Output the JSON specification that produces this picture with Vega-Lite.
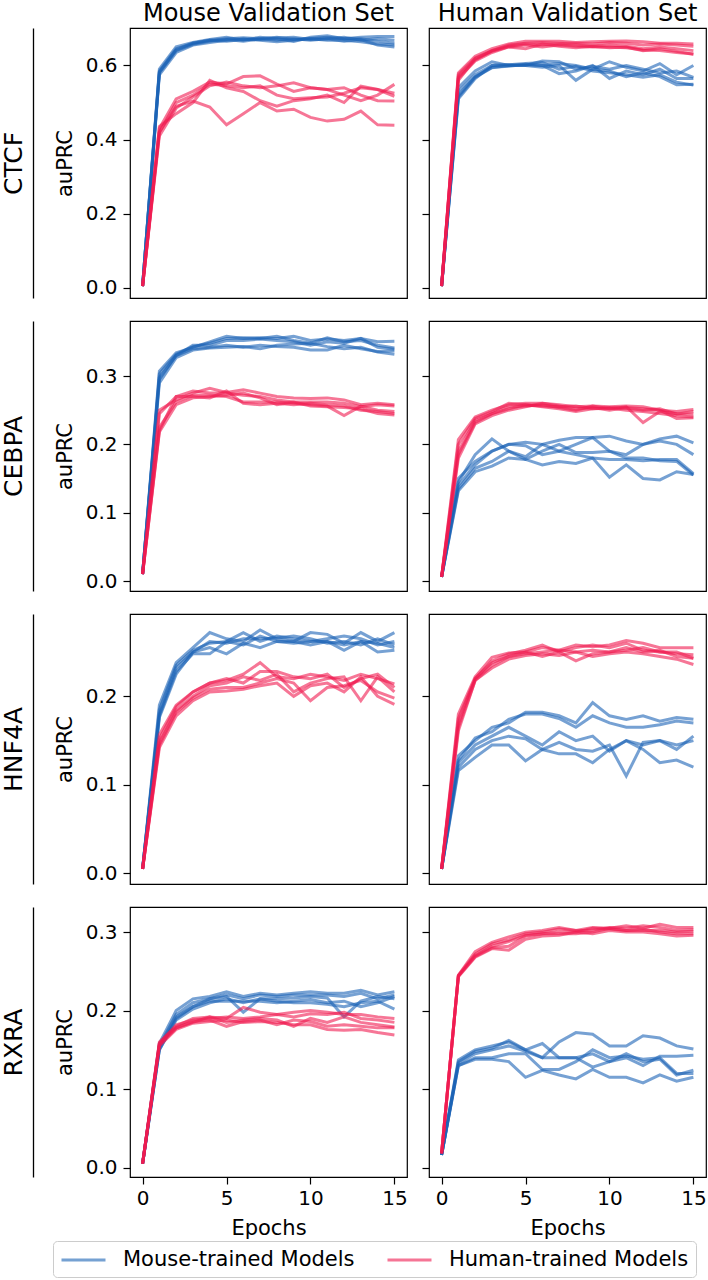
{
  "$schema": "https://vega.github.io/schema/vega-lite/v6.json",
  "padding": {"top": 1, "left": 0, "right": 0, "bottom": 0},
  "background": "white",
  "config": {
    "font": "DejaVu Sans",
    "view": {"stroke": "black", "strokeWidth": 1.2},
    "axis": {
      "grid": false, "domain": false, "tickColor": "black", "tickSize": 7, "tickWidth": 1.2,
      "labelFont": "DejaVu Sans", "labelFontSize": 20, "labelColor": "black", "labelPadding": 6, "labelFlush": false,
      "titleFont": "DejaVu Sans", "titleFontSize": 21, "titleFontWeight": "normal", "titleColor": "black"
    },
    "title": {"font": "DejaVu Sans", "fontSize": 24, "fontWeight": "normal", "color": "black", "offset": 2, "frame": "group", "anchor": "middle"},
    "legend": {
      "orient": "none", "legendX": -77, "legendY": 1213, "direction": "horizontal", "padding": 7,
      "strokeColor": "#cccccc", "fillColor": "white", "cornerRadius": 4,
      "labelFont": "DejaVu Sans", "labelFontSize": 21, "labelColor": "black", "labelOffset": 39, "labelLimit": 400,
      "symbolType": "M-1,0H3.19", "symbolSize": 441, "symbolStrokeWidth": 3, "symbolOpacity": 0.6, "columnPadding": 26
    }
  },
  "spacing": 21,
  "vconcat": [
    {
      "spacing": 12,
      "hconcat": [
        {
          "width": 277, "height": 270,
          "title": "Mouse Validation Set",
          "data": {"values": [
            {"m":"M","r":1,"x":0,"y":0.005},{"m":"M","r":1,"x":1,"y":0.585},{"m":"M","r":1,"x":2,"y":0.645},{"m":"M","r":1,"x":3,"y":0.66},{"m":"M","r":1,"x":4,"y":0.668},{"m":"M","r":1,"x":5,"y":0.672},{"m":"M","r":1,"x":6,"y":0.675},{"m":"M","r":1,"x":7,"y":0.672},{"m":"M","r":1,"x":8,"y":0.676},{"m":"M","r":1,"x":9,"y":0.67},{"m":"M","r":1,"x":10,"y":0.673},{"m":"M","r":1,"x":11,"y":0.676},{"m":"M","r":1,"x":12,"y":0.672},{"m":"M","r":1,"x":13,"y":0.676},{"m":"M","r":1,"x":14,"y":0.678},{"m":"M","r":1,"x":15,"y":0.678},
            {"m":"M","r":2,"x":0,"y":0.005},{"m":"M","r":2,"x":1,"y":0.58},{"m":"M","r":2,"x":2,"y":0.64},{"m":"M","r":2,"x":3,"y":0.657},{"m":"M","r":2,"x":4,"y":0.665},{"m":"M","r":2,"x":5,"y":0.67},{"m":"M","r":2,"x":6,"y":0.665},{"m":"M","r":2,"x":7,"y":0.672},{"m":"M","r":2,"x":8,"y":0.668},{"m":"M","r":2,"x":9,"y":0.672},{"m":"M","r":2,"x":10,"y":0.668},{"m":"M","r":2,"x":11,"y":0.672},{"m":"M","r":2,"x":12,"y":0.676},{"m":"M","r":2,"x":13,"y":0.668},{"m":"M","r":2,"x":14,"y":0.672},{"m":"M","r":2,"x":15,"y":0.668},
            {"m":"M","r":3,"x":0,"y":0.005},{"m":"M","r":3,"x":1,"y":0.59},{"m":"M","r":3,"x":2,"y":0.65},{"m":"M","r":3,"x":3,"y":0.662},{"m":"M","r":3,"x":4,"y":0.67},{"m":"M","r":3,"x":5,"y":0.676},{"m":"M","r":3,"x":6,"y":0.668},{"m":"M","r":3,"x":7,"y":0.676},{"m":"M","r":3,"x":8,"y":0.672},{"m":"M","r":3,"x":9,"y":0.665},{"m":"M","r":3,"x":10,"y":0.676},{"m":"M","r":3,"x":11,"y":0.68},{"m":"M","r":3,"x":12,"y":0.672},{"m":"M","r":3,"x":13,"y":0.672},{"m":"M","r":3,"x":14,"y":0.665},{"m":"M","r":3,"x":15,"y":0.66},
            {"m":"M","r":4,"x":0,"y":0.005},{"m":"M","r":4,"x":1,"y":0.575},{"m":"M","r":4,"x":2,"y":0.635},{"m":"M","r":4,"x":3,"y":0.655},{"m":"M","r":4,"x":4,"y":0.662},{"m":"M","r":4,"x":5,"y":0.668},{"m":"M","r":4,"x":6,"y":0.672},{"m":"M","r":4,"x":7,"y":0.668},{"m":"M","r":4,"x":8,"y":0.664},{"m":"M","r":4,"x":9,"y":0.668},{"m":"M","r":4,"x":10,"y":0.672},{"m":"M","r":4,"x":11,"y":0.668},{"m":"M","r":4,"x":12,"y":0.668},{"m":"M","r":4,"x":13,"y":0.664},{"m":"M","r":4,"x":14,"y":0.658},{"m":"M","r":4,"x":15,"y":0.655},
            {"m":"M","r":5,"x":0,"y":0.005},{"m":"M","r":5,"x":1,"y":0.582},{"m":"M","r":5,"x":2,"y":0.642},{"m":"M","r":5,"x":3,"y":0.66},{"m":"M","r":5,"x":4,"y":0.668},{"m":"M","r":5,"x":5,"y":0.665},{"m":"M","r":5,"x":6,"y":0.67},{"m":"M","r":5,"x":7,"y":0.67},{"m":"M","r":5,"x":8,"y":0.674},{"m":"M","r":5,"x":9,"y":0.676},{"m":"M","r":5,"x":10,"y":0.67},{"m":"M","r":5,"x":11,"y":0.672},{"m":"M","r":5,"x":12,"y":0.665},{"m":"M","r":5,"x":13,"y":0.67},{"m":"M","r":5,"x":14,"y":0.655},{"m":"M","r":5,"x":15,"y":0.65},
            {"m":"H","r":1,"x":0,"y":0.005},{"m":"H","r":1,"x":1,"y":0.43},{"m":"H","r":1,"x":2,"y":0.51},{"m":"H","r":1,"x":3,"y":0.53},{"m":"H","r":1,"x":4,"y":0.555},{"m":"H","r":1,"x":5,"y":0.55},{"m":"H","r":1,"x":6,"y":0.57},{"m":"H","r":1,"x":7,"y":0.572},{"m":"H","r":1,"x":8,"y":0.55},{"m":"H","r":1,"x":9,"y":0.53},{"m":"H","r":1,"x":10,"y":0.54},{"m":"H","r":1,"x":11,"y":0.535},{"m":"H","r":1,"x":12,"y":0.52},{"m":"H","r":1,"x":13,"y":0.505},{"m":"H","r":1,"x":14,"y":0.52},{"m":"H","r":1,"x":15,"y":0.549},
            {"m":"H","r":2,"x":0,"y":0.005},{"m":"H","r":2,"x":1,"y":0.42},{"m":"H","r":2,"x":2,"y":0.5},{"m":"H","r":2,"x":3,"y":0.52},{"m":"H","r":2,"x":4,"y":0.55},{"m":"H","r":2,"x":5,"y":0.545},{"m":"H","r":2,"x":6,"y":0.54},{"m":"H","r":2,"x":7,"y":0.545},{"m":"H","r":2,"x":8,"y":0.52},{"m":"H","r":2,"x":9,"y":0.51},{"m":"H","r":2,"x":10,"y":0.513},{"m":"H","r":2,"x":11,"y":0.515},{"m":"H","r":2,"x":12,"y":0.525},{"m":"H","r":2,"x":13,"y":0.54},{"m":"H","r":2,"x":14,"y":0.535},{"m":"H","r":2,"x":15,"y":0.525},
            {"m":"H","r":3,"x":0,"y":0.005},{"m":"H","r":3,"x":1,"y":0.41},{"m":"H","r":3,"x":2,"y":0.485},{"m":"H","r":3,"x":3,"y":0.515},{"m":"H","r":3,"x":4,"y":0.545},{"m":"H","r":3,"x":5,"y":0.555},{"m":"H","r":3,"x":6,"y":0.545},{"m":"H","r":3,"x":7,"y":0.54},{"m":"H","r":3,"x":8,"y":0.545},{"m":"H","r":3,"x":9,"y":0.553},{"m":"H","r":3,"x":10,"y":0.54},{"m":"H","r":3,"x":11,"y":0.535},{"m":"H","r":3,"x":12,"y":0.54},{"m":"H","r":3,"x":13,"y":0.52},{"m":"H","r":3,"x":14,"y":0.505},{"m":"H","r":3,"x":15,"y":0.504},
            {"m":"H","r":4,"x":0,"y":0.005},{"m":"H","r":4,"x":1,"y":0.435},{"m":"H","r":4,"x":2,"y":0.47},{"m":"H","r":4,"x":3,"y":0.5},{"m":"H","r":4,"x":4,"y":0.56},{"m":"H","r":4,"x":5,"y":0.54},{"m":"H","r":4,"x":6,"y":0.53},{"m":"H","r":4,"x":7,"y":0.505},{"m":"H","r":4,"x":8,"y":0.49},{"m":"H","r":4,"x":9,"y":0.505},{"m":"H","r":4,"x":10,"y":0.51},{"m":"H","r":4,"x":11,"y":0.52},{"m":"H","r":4,"x":12,"y":0.5},{"m":"H","r":4,"x":13,"y":0.544},{"m":"H","r":4,"x":14,"y":0.535},{"m":"H","r":4,"x":15,"y":0.517},
            {"m":"H","r":5,"x":0,"y":0.005},{"m":"H","r":5,"x":1,"y":0.42},{"m":"H","r":5,"x":2,"y":0.49},{"m":"H","r":5,"x":3,"y":0.504},{"m":"H","r":5,"x":4,"y":0.488},{"m":"H","r":5,"x":5,"y":0.44},{"m":"H","r":5,"x":6,"y":0.47},{"m":"H","r":5,"x":7,"y":0.5},{"m":"H","r":5,"x":8,"y":0.477},{"m":"H","r":5,"x":9,"y":0.482},{"m":"H","r":5,"x":10,"y":0.46},{"m":"H","r":5,"x":11,"y":0.45},{"m":"H","r":5,"x":12,"y":0.455},{"m":"H","r":5,"x":13,"y":0.477},{"m":"H","r":5,"x":14,"y":0.44},{"m":"H","r":5,"x":15,"y":0.439}
          ]},
          "layer": [
            {
              "mark": {"type": "line", "strokeWidth": 3, "opacity": 0.6},
              "encoding": {
                "x": {"field": "x", "type": "quantitative", "scale": {"domain": [-0.75, 15.75], "nice": false}, "axis": null},
                "y": {"field": "y", "type": "quantitative", "scale": {"domain": [-0.027, 0.701], "nice": false, "zero": false}, "axis": {"title": "auPRC", "values": [0, 0.2, 0.4, 0.6], "format": ".1f", "titlePadding": 10}},
                "color": {"field": "m", "type": "nominal", "scale": {"domain": ["M", "H"], "range": ["#1b63b5", "#f01a50"]}, "legend": {"title": null, "labelExpr": "datum.value == 'M' ? 'Mouse-trained Models' : 'Human-trained Models'"}},
                "detail": {"field": "r"}
              }
            },
            {
              "mark": {"type": "point", "opacity": 0},
              "encoding": {
                "y": {"field": "y", "type": "quantitative", "scale": {"domain": [-0.027, 0.701], "nice": false, "zero": false}, "axis": {"orient": "left", "offset": 97, "ticks": false, "labels": false, "domain": true, "domainColor": "black", "domainWidth": 1.3, "title": "CTCF", "titleFontSize": 25, "titlePadding": 7, "minExtent": 0}}
              }
            }
          ],
          "resolve": {"axis": {"y": "independent"}}
        },
        {
          "width": 277, "height": 270,
          "title": "Human Validation Set",
          "data": {"values": [
            {"m":"M","r":1,"x":0,"y":0.005},{"m":"M","r":1,"x":1,"y":0.54},{"m":"M","r":1,"x":2,"y":0.585},{"m":"M","r":1,"x":3,"y":0.61},{"m":"M","r":1,"x":4,"y":0.6},{"m":"M","r":1,"x":5,"y":0.602},{"m":"M","r":1,"x":6,"y":0.6},{"m":"M","r":1,"x":7,"y":0.605},{"m":"M","r":1,"x":8,"y":0.6},{"m":"M","r":1,"x":9,"y":0.59},{"m":"M","r":1,"x":10,"y":0.61},{"m":"M","r":1,"x":11,"y":0.595},{"m":"M","r":1,"x":12,"y":0.585},{"m":"M","r":1,"x":13,"y":0.605},{"m":"M","r":1,"x":14,"y":0.575},{"m":"M","r":1,"x":15,"y":0.6},
            {"m":"M","r":2,"x":0,"y":0.005},{"m":"M","r":2,"x":1,"y":0.53},{"m":"M","r":2,"x":2,"y":0.575},{"m":"M","r":2,"x":3,"y":0.6},{"m":"M","r":2,"x":4,"y":0.602},{"m":"M","r":2,"x":5,"y":0.6},{"m":"M","r":2,"x":6,"y":0.612},{"m":"M","r":2,"x":7,"y":0.61},{"m":"M","r":2,"x":8,"y":0.59},{"m":"M","r":2,"x":9,"y":0.598},{"m":"M","r":2,"x":10,"y":0.59},{"m":"M","r":2,"x":11,"y":0.6},{"m":"M","r":2,"x":12,"y":0.59},{"m":"M","r":2,"x":13,"y":0.58},{"m":"M","r":2,"x":14,"y":0.585},{"m":"M","r":2,"x":15,"y":0.568},
            {"m":"M","r":3,"x":0,"y":0.005},{"m":"M","r":3,"x":1,"y":0.52},{"m":"M","r":3,"x":2,"y":0.57},{"m":"M","r":3,"x":3,"y":0.595},{"m":"M","r":3,"x":4,"y":0.598},{"m":"M","r":3,"x":5,"y":0.603},{"m":"M","r":3,"x":6,"y":0.6},{"m":"M","r":3,"x":7,"y":0.578},{"m":"M","r":3,"x":8,"y":0.585},{"m":"M","r":3,"x":9,"y":0.6},{"m":"M","r":3,"x":10,"y":0.565},{"m":"M","r":3,"x":11,"y":0.585},{"m":"M","r":3,"x":12,"y":0.575},{"m":"M","r":3,"x":13,"y":0.59},{"m":"M","r":3,"x":14,"y":0.565},{"m":"M","r":3,"x":15,"y":0.565},
            {"m":"M","r":4,"x":0,"y":0.005},{"m":"M","r":4,"x":1,"y":0.515},{"m":"M","r":4,"x":2,"y":0.568},{"m":"M","r":4,"x":3,"y":0.594},{"m":"M","r":4,"x":4,"y":0.6},{"m":"M","r":4,"x":5,"y":0.6},{"m":"M","r":4,"x":6,"y":0.595},{"m":"M","r":4,"x":7,"y":0.6},{"m":"M","r":4,"x":8,"y":0.56},{"m":"M","r":4,"x":9,"y":0.59},{"m":"M","r":4,"x":10,"y":0.585},{"m":"M","r":4,"x":11,"y":0.57},{"m":"M","r":4,"x":12,"y":0.58},{"m":"M","r":4,"x":13,"y":0.57},{"m":"M","r":4,"x":14,"y":0.548},{"m":"M","r":4,"x":15,"y":0.549},
            {"m":"M","r":5,"x":0,"y":0.005},{"m":"M","r":5,"x":1,"y":0.51},{"m":"M","r":5,"x":2,"y":0.565},{"m":"M","r":5,"x":3,"y":0.6},{"m":"M","r":5,"x":4,"y":0.602},{"m":"M","r":5,"x":5,"y":0.605},{"m":"M","r":5,"x":6,"y":0.608},{"m":"M","r":5,"x":7,"y":0.59},{"m":"M","r":5,"x":8,"y":0.598},{"m":"M","r":5,"x":9,"y":0.585},{"m":"M","r":5,"x":10,"y":0.58},{"m":"M","r":5,"x":11,"y":0.575},{"m":"M","r":5,"x":12,"y":0.568},{"m":"M","r":5,"x":13,"y":0.575},{"m":"M","r":5,"x":14,"y":0.555},{"m":"M","r":5,"x":15,"y":0.547},
            {"m":"H","r":1,"x":0,"y":0.005},{"m":"H","r":1,"x":1,"y":0.58},{"m":"H","r":1,"x":2,"y":0.625},{"m":"H","r":1,"x":3,"y":0.645},{"m":"H","r":1,"x":4,"y":0.658},{"m":"H","r":1,"x":5,"y":0.665},{"m":"H","r":1,"x":6,"y":0.665},{"m":"H","r":1,"x":7,"y":0.665},{"m":"H","r":1,"x":8,"y":0.662},{"m":"H","r":1,"x":9,"y":0.664},{"m":"H","r":1,"x":10,"y":0.665},{"m":"H","r":1,"x":11,"y":0.666},{"m":"H","r":1,"x":12,"y":0.664},{"m":"H","r":1,"x":13,"y":0.66},{"m":"H","r":1,"x":14,"y":0.66},{"m":"H","r":1,"x":15,"y":0.658},
            {"m":"H","r":2,"x":0,"y":0.005},{"m":"H","r":2,"x":1,"y":0.575},{"m":"H","r":2,"x":2,"y":0.62},{"m":"H","r":2,"x":3,"y":0.64},{"m":"H","r":2,"x":4,"y":0.655},{"m":"H","r":2,"x":5,"y":0.66},{"m":"H","r":2,"x":6,"y":0.662},{"m":"H","r":2,"x":7,"y":0.66},{"m":"H","r":2,"x":8,"y":0.66},{"m":"H","r":2,"x":9,"y":0.658},{"m":"H","r":2,"x":10,"y":0.662},{"m":"H","r":2,"x":11,"y":0.66},{"m":"H","r":2,"x":12,"y":0.655},{"m":"H","r":2,"x":13,"y":0.658},{"m":"H","r":2,"x":14,"y":0.655},{"m":"H","r":2,"x":15,"y":0.652},
            {"m":"H","r":3,"x":0,"y":0.005},{"m":"H","r":3,"x":1,"y":0.57},{"m":"H","r":3,"x":2,"y":0.615},{"m":"H","r":3,"x":3,"y":0.64},{"m":"H","r":3,"x":4,"y":0.652},{"m":"H","r":3,"x":5,"y":0.658},{"m":"H","r":3,"x":6,"y":0.655},{"m":"H","r":3,"x":7,"y":0.658},{"m":"H","r":3,"x":8,"y":0.655},{"m":"H","r":3,"x":9,"y":0.652},{"m":"H","r":3,"x":10,"y":0.655},{"m":"H","r":3,"x":11,"y":0.652},{"m":"H","r":3,"x":12,"y":0.645},{"m":"H","r":3,"x":13,"y":0.65},{"m":"H","r":3,"x":14,"y":0.645},{"m":"H","r":3,"x":15,"y":0.64},
            {"m":"H","r":4,"x":0,"y":0.005},{"m":"H","r":4,"x":1,"y":0.565},{"m":"H","r":4,"x":2,"y":0.612},{"m":"H","r":4,"x":3,"y":0.635},{"m":"H","r":4,"x":4,"y":0.65},{"m":"H","r":4,"x":5,"y":0.655},{"m":"H","r":4,"x":6,"y":0.65},{"m":"H","r":4,"x":7,"y":0.655},{"m":"H","r":4,"x":8,"y":0.652},{"m":"H","r":4,"x":9,"y":0.65},{"m":"H","r":4,"x":10,"y":0.65},{"m":"H","r":4,"x":11,"y":0.648},{"m":"H","r":4,"x":12,"y":0.642},{"m":"H","r":4,"x":13,"y":0.64},{"m":"H","r":4,"x":14,"y":0.635},{"m":"H","r":4,"x":15,"y":0.631},
            {"m":"H","r":5,"x":0,"y":0.005},{"m":"H","r":5,"x":1,"y":0.56},{"m":"H","r":5,"x":2,"y":0.618},{"m":"H","r":5,"x":3,"y":0.638},{"m":"H","r":5,"x":4,"y":0.65},{"m":"H","r":5,"x":5,"y":0.645},{"m":"H","r":5,"x":6,"y":0.658},{"m":"H","r":5,"x":7,"y":0.652},{"m":"H","r":5,"x":8,"y":0.648},{"m":"H","r":5,"x":9,"y":0.652},{"m":"H","r":5,"x":10,"y":0.648},{"m":"H","r":5,"x":11,"y":0.65},{"m":"H","r":5,"x":12,"y":0.64},{"m":"H","r":5,"x":13,"y":0.645},{"m":"H","r":5,"x":14,"y":0.638},{"m":"H","r":5,"x":15,"y":0.63}
          ]},
          "mark": {"type": "line", "strokeWidth": 3, "opacity": 0.6},
          "encoding": {
            "x": {"field": "x", "type": "quantitative", "scale": {"domain": [-0.75, 15.75], "nice": false}, "axis": null},
            "y": {"field": "y", "type": "quantitative", "scale": {"domain": [-0.027, 0.701], "nice": false, "zero": false}, "axis": {"title": null, "labels": false, "values": [0, 0.2, 0.4, 0.6], "minExtent": 0}},
            "color": {"field": "m", "type": "nominal", "scale": {"domain": ["M", "H"], "range": ["#1b63b5", "#f01a50"]}, "legend": {"title": null, "labelExpr": "datum.value == 'M' ? 'Mouse-trained Models' : 'Human-trained Models'"}},
            "detail": {"field": "r"}
          }
        }
      ]
    },
    {
      "spacing": 12,
      "hconcat": [
        {
          "width": 277, "height": 270,
          "data": {"values": [
            {"m":"M","r":1,"x":0,"y":0.01},{"m":"M","r":1,"x":1,"y":0.307},{"m":"M","r":1,"x":2,"y":0.334},{"m":"M","r":1,"x":3,"y":0.342},{"m":"M","r":1,"x":4,"y":0.35},{"m":"M","r":1,"x":5,"y":0.358},{"m":"M","r":1,"x":6,"y":0.355},{"m":"M","r":1,"x":7,"y":0.356},{"m":"M","r":1,"x":8,"y":0.355},{"m":"M","r":1,"x":9,"y":0.358},{"m":"M","r":1,"x":10,"y":0.352},{"m":"M","r":1,"x":11,"y":0.354},{"m":"M","r":1,"x":12,"y":0.352},{"m":"M","r":1,"x":13,"y":0.355},{"m":"M","r":1,"x":14,"y":0.35},{"m":"M","r":1,"x":15,"y":0.351},
            {"m":"M","r":2,"x":0,"y":0.01},{"m":"M","r":2,"x":1,"y":0.303},{"m":"M","r":2,"x":2,"y":0.332},{"m":"M","r":2,"x":3,"y":0.343},{"m":"M","r":2,"x":4,"y":0.348},{"m":"M","r":2,"x":5,"y":0.355},{"m":"M","r":2,"x":6,"y":0.356},{"m":"M","r":2,"x":7,"y":0.355},{"m":"M","r":2,"x":8,"y":0.358},{"m":"M","r":2,"x":9,"y":0.352},{"m":"M","r":2,"x":10,"y":0.348},{"m":"M","r":2,"x":11,"y":0.356},{"m":"M","r":2,"x":12,"y":0.35},{"m":"M","r":2,"x":13,"y":0.352},{"m":"M","r":2,"x":14,"y":0.345},{"m":"M","r":2,"x":15,"y":0.341},
            {"m":"M","r":3,"x":0,"y":0.01},{"m":"M","r":3,"x":1,"y":0.298},{"m":"M","r":3,"x":2,"y":0.33},{"m":"M","r":3,"x":3,"y":0.345},{"m":"M","r":3,"x":4,"y":0.345},{"m":"M","r":3,"x":5,"y":0.352},{"m":"M","r":3,"x":6,"y":0.352},{"m":"M","r":3,"x":7,"y":0.354},{"m":"M","r":3,"x":8,"y":0.352},{"m":"M","r":3,"x":9,"y":0.35},{"m":"M","r":3,"x":10,"y":0.345},{"m":"M","r":3,"x":11,"y":0.35},{"m":"M","r":3,"x":12,"y":0.348},{"m":"M","r":3,"x":13,"y":0.355},{"m":"M","r":3,"x":14,"y":0.342},{"m":"M","r":3,"x":15,"y":0.339},
            {"m":"M","r":4,"x":0,"y":0.01},{"m":"M","r":4,"x":1,"y":0.295},{"m":"M","r":4,"x":2,"y":0.33},{"m":"M","r":4,"x":3,"y":0.34},{"m":"M","r":4,"x":4,"y":0.342},{"m":"M","r":4,"x":5,"y":0.345},{"m":"M","r":4,"x":6,"y":0.342},{"m":"M","r":4,"x":7,"y":0.345},{"m":"M","r":4,"x":8,"y":0.343},{"m":"M","r":4,"x":9,"y":0.342},{"m":"M","r":4,"x":10,"y":0.338},{"m":"M","r":4,"x":11,"y":0.338},{"m":"M","r":4,"x":12,"y":0.345},{"m":"M","r":4,"x":13,"y":0.34},{"m":"M","r":4,"x":14,"y":0.336},{"m":"M","r":4,"x":15,"y":0.337},
            {"m":"M","r":5,"x":0,"y":0.01},{"m":"M","r":5,"x":1,"y":0.29},{"m":"M","r":5,"x":2,"y":0.327},{"m":"M","r":5,"x":3,"y":0.338},{"m":"M","r":5,"x":4,"y":0.341},{"m":"M","r":5,"x":5,"y":0.342},{"m":"M","r":5,"x":6,"y":0.343},{"m":"M","r":5,"x":7,"y":0.34},{"m":"M","r":5,"x":8,"y":0.345},{"m":"M","r":5,"x":9,"y":0.347},{"m":"M","r":5,"x":10,"y":0.348},{"m":"M","r":5,"x":11,"y":0.343},{"m":"M","r":5,"x":12,"y":0.34},{"m":"M","r":5,"x":13,"y":0.342},{"m":"M","r":5,"x":14,"y":0.335},{"m":"M","r":5,"x":15,"y":0.332},
            {"m":"H","r":1,"x":0,"y":0.01},{"m":"H","r":1,"x":1,"y":0.25},{"m":"H","r":1,"x":2,"y":0.265},{"m":"H","r":1,"x":3,"y":0.275},{"m":"H","r":1,"x":4,"y":0.282},{"m":"H","r":1,"x":5,"y":0.276},{"m":"H","r":1,"x":6,"y":0.28},{"m":"H","r":1,"x":7,"y":0.275},{"m":"H","r":1,"x":8,"y":0.27},{"m":"H","r":1,"x":9,"y":0.268},{"m":"H","r":1,"x":10,"y":0.267},{"m":"H","r":1,"x":11,"y":0.268},{"m":"H","r":1,"x":12,"y":0.265},{"m":"H","r":1,"x":13,"y":0.258},{"m":"H","r":1,"x":14,"y":0.26},{"m":"H","r":1,"x":15,"y":0.258},
            {"m":"H","r":2,"x":0,"y":0.01},{"m":"H","r":2,"x":1,"y":0.245},{"m":"H","r":2,"x":2,"y":0.27},{"m":"H","r":2,"x":3,"y":0.278},{"m":"H","r":2,"x":4,"y":0.275},{"m":"H","r":2,"x":5,"y":0.275},{"m":"H","r":2,"x":6,"y":0.272},{"m":"H","r":2,"x":7,"y":0.27},{"m":"H","r":2,"x":8,"y":0.265},{"m":"H","r":2,"x":9,"y":0.262},{"m":"H","r":2,"x":10,"y":0.262},{"m":"H","r":2,"x":11,"y":0.262},{"m":"H","r":2,"x":12,"y":0.26},{"m":"H","r":2,"x":13,"y":0.255},{"m":"H","r":2,"x":14,"y":0.258},{"m":"H","r":2,"x":15,"y":0.256},
            {"m":"H","r":3,"x":0,"y":0.01},{"m":"H","r":3,"x":1,"y":0.225},{"m":"H","r":3,"x":2,"y":0.262},{"m":"H","r":3,"x":3,"y":0.272},{"m":"H","r":3,"x":4,"y":0.272},{"m":"H","r":3,"x":5,"y":0.27},{"m":"H","r":3,"x":6,"y":0.262},{"m":"H","r":3,"x":7,"y":0.262},{"m":"H","r":3,"x":8,"y":0.262},{"m":"H","r":3,"x":9,"y":0.26},{"m":"H","r":3,"x":10,"y":0.258},{"m":"H","r":3,"x":11,"y":0.256},{"m":"H","r":3,"x":12,"y":0.242},{"m":"H","r":3,"x":13,"y":0.256},{"m":"H","r":3,"x":14,"y":0.25},{"m":"H","r":3,"x":15,"y":0.248},
            {"m":"H","r":4,"x":0,"y":0.01},{"m":"H","r":4,"x":1,"y":0.22},{"m":"H","r":4,"x":2,"y":0.27},{"m":"H","r":4,"x":3,"y":0.27},{"m":"H","r":4,"x":4,"y":0.268},{"m":"H","r":4,"x":5,"y":0.278},{"m":"H","r":4,"x":6,"y":0.26},{"m":"H","r":4,"x":7,"y":0.258},{"m":"H","r":4,"x":8,"y":0.26},{"m":"H","r":4,"x":9,"y":0.258},{"m":"H","r":4,"x":10,"y":0.26},{"m":"H","r":4,"x":11,"y":0.258},{"m":"H","r":4,"x":12,"y":0.256},{"m":"H","r":4,"x":13,"y":0.25},{"m":"H","r":4,"x":14,"y":0.248},{"m":"H","r":4,"x":15,"y":0.245},
            {"m":"H","r":5,"x":0,"y":0.01},{"m":"H","r":5,"x":1,"y":0.218},{"m":"H","r":5,"x":2,"y":0.258},{"m":"H","r":5,"x":3,"y":0.268},{"m":"H","r":5,"x":4,"y":0.27},{"m":"H","r":5,"x":5,"y":0.272},{"m":"H","r":5,"x":6,"y":0.275},{"m":"H","r":5,"x":7,"y":0.268},{"m":"H","r":5,"x":8,"y":0.258},{"m":"H","r":5,"x":9,"y":0.262},{"m":"H","r":5,"x":10,"y":0.256},{"m":"H","r":5,"x":11,"y":0.255},{"m":"H","r":5,"x":12,"y":0.254},{"m":"H","r":5,"x":13,"y":0.252},{"m":"H","r":5,"x":14,"y":0.245},{"m":"H","r":5,"x":15,"y":0.243}
          ]},
          "layer": [
            {
              "mark": {"type": "line", "strokeWidth": 3, "opacity": 0.6},
              "encoding": {
                "x": {"field": "x", "type": "quantitative", "scale": {"domain": [-0.75, 15.75], "nice": false}, "axis": null},
                "y": {"field": "y", "type": "quantitative", "scale": {"domain": [-0.0146, 0.3805], "nice": false, "zero": false}, "axis": {"title": "auPRC", "values": [0, 0.1, 0.2, 0.3], "format": ".1f", "titlePadding": 10}},
                "color": {"field": "m", "type": "nominal", "scale": {"domain": ["M", "H"], "range": ["#1b63b5", "#f01a50"]}, "legend": {"title": null, "labelExpr": "datum.value == 'M' ? 'Mouse-trained Models' : 'Human-trained Models'"}},
                "detail": {"field": "r"}
              }
            },
            {
              "mark": {"type": "point", "opacity": 0},
              "encoding": {
                "y": {"field": "y", "type": "quantitative", "scale": {"domain": [-0.0146, 0.3805], "nice": false, "zero": false}, "axis": {"orient": "left", "offset": 97, "ticks": false, "labels": false, "domain": true, "domainColor": "black", "domainWidth": 1.3, "title": "CEBPA", "titleFontSize": 25, "titlePadding": 7, "minExtent": 0}}
              }
            }
          ],
          "resolve": {"axis": {"y": "independent"}}
        },
        {
          "width": 277, "height": 270,
          "data": {"values": [
            {"m":"M","r":1,"x":0,"y":0.006},{"m":"M","r":1,"x":1,"y":0.15},{"m":"M","r":1,"x":2,"y":0.175},{"m":"M","r":1,"x":3,"y":0.19},{"m":"M","r":1,"x":4,"y":0.2},{"m":"M","r":1,"x":5,"y":0.203},{"m":"M","r":1,"x":6,"y":0.2},{"m":"M","r":1,"x":7,"y":0.19},{"m":"M","r":1,"x":8,"y":0.2},{"m":"M","r":1,"x":9,"y":0.21},{"m":"M","r":1,"x":10,"y":0.212},{"m":"M","r":1,"x":11,"y":0.205},{"m":"M","r":1,"x":12,"y":0.2},{"m":"M","r":1,"x":13,"y":0.208},{"m":"M","r":1,"x":14,"y":0.212},{"m":"M","r":1,"x":15,"y":0.202},
            {"m":"M","r":2,"x":0,"y":0.006},{"m":"M","r":2,"x":1,"y":0.145},{"m":"M","r":2,"x":2,"y":0.185},{"m":"M","r":2,"x":3,"y":0.208},{"m":"M","r":2,"x":4,"y":0.19},{"m":"M","r":2,"x":5,"y":0.182},{"m":"M","r":2,"x":6,"y":0.2},{"m":"M","r":2,"x":7,"y":0.206},{"m":"M","r":2,"x":8,"y":0.21},{"m":"M","r":2,"x":9,"y":0.21},{"m":"M","r":2,"x":10,"y":0.19},{"m":"M","r":2,"x":11,"y":0.185},{"m":"M","r":2,"x":12,"y":0.2},{"m":"M","r":2,"x":13,"y":0.205},{"m":"M","r":2,"x":14,"y":0.2},{"m":"M","r":2,"x":15,"y":0.185},
            {"m":"M","r":3,"x":0,"y":0.006},{"m":"M","r":3,"x":1,"y":0.14},{"m":"M","r":3,"x":2,"y":0.17},{"m":"M","r":3,"x":3,"y":0.19},{"m":"M","r":3,"x":4,"y":0.2},{"m":"M","r":3,"x":5,"y":0.198},{"m":"M","r":3,"x":6,"y":0.185},{"m":"M","r":3,"x":7,"y":0.19},{"m":"M","r":3,"x":8,"y":0.185},{"m":"M","r":3,"x":9,"y":0.18},{"m":"M","r":3,"x":10,"y":0.152},{"m":"M","r":3,"x":11,"y":0.17},{"m":"M","r":3,"x":12,"y":0.15},{"m":"M","r":3,"x":13,"y":0.148},{"m":"M","r":3,"x":14,"y":0.16},{"m":"M","r":3,"x":15,"y":0.156},
            {"m":"M","r":4,"x":0,"y":0.006},{"m":"M","r":4,"x":1,"y":0.135},{"m":"M","r":4,"x":2,"y":0.165},{"m":"M","r":4,"x":3,"y":0.175},{"m":"M","r":4,"x":4,"y":0.19},{"m":"M","r":4,"x":5,"y":0.178},{"m":"M","r":4,"x":6,"y":0.19},{"m":"M","r":4,"x":7,"y":0.2},{"m":"M","r":4,"x":8,"y":0.188},{"m":"M","r":4,"x":9,"y":0.188},{"m":"M","r":4,"x":10,"y":0.19},{"m":"M","r":4,"x":11,"y":0.18},{"m":"M","r":4,"x":12,"y":0.18},{"m":"M","r":4,"x":13,"y":0.176},{"m":"M","r":4,"x":14,"y":0.175},{"m":"M","r":4,"x":15,"y":0.155},
            {"m":"M","r":5,"x":0,"y":0.006},{"m":"M","r":5,"x":1,"y":0.132},{"m":"M","r":5,"x":2,"y":0.16},{"m":"M","r":5,"x":3,"y":0.168},{"m":"M","r":5,"x":4,"y":0.18},{"m":"M","r":5,"x":5,"y":0.178},{"m":"M","r":5,"x":6,"y":0.17},{"m":"M","r":5,"x":7,"y":0.175},{"m":"M","r":5,"x":8,"y":0.172},{"m":"M","r":5,"x":9,"y":0.18},{"m":"M","r":5,"x":10,"y":0.178},{"m":"M","r":5,"x":11,"y":0.178},{"m":"M","r":5,"x":12,"y":0.176},{"m":"M","r":5,"x":13,"y":0.178},{"m":"M","r":5,"x":14,"y":0.178},{"m":"M","r":5,"x":15,"y":0.157},
            {"m":"H","r":1,"x":0,"y":0.006},{"m":"H","r":1,"x":1,"y":0.207},{"m":"H","r":1,"x":2,"y":0.24},{"m":"H","r":1,"x":3,"y":0.25},{"m":"H","r":1,"x":4,"y":0.258},{"m":"H","r":1,"x":5,"y":0.26},{"m":"H","r":1,"x":6,"y":0.26},{"m":"H","r":1,"x":7,"y":0.258},{"m":"H","r":1,"x":8,"y":0.255},{"m":"H","r":1,"x":9,"y":0.256},{"m":"H","r":1,"x":10,"y":0.255},{"m":"H","r":1,"x":11,"y":0.256},{"m":"H","r":1,"x":12,"y":0.255},{"m":"H","r":1,"x":13,"y":0.25},{"m":"H","r":1,"x":14,"y":0.248},{"m":"H","r":1,"x":15,"y":0.251},
            {"m":"H","r":2,"x":0,"y":0.006},{"m":"H","r":2,"x":1,"y":0.2},{"m":"H","r":2,"x":2,"y":0.238},{"m":"H","r":2,"x":3,"y":0.248},{"m":"H","r":2,"x":4,"y":0.26},{"m":"H","r":2,"x":5,"y":0.258},{"m":"H","r":2,"x":6,"y":0.256},{"m":"H","r":2,"x":7,"y":0.255},{"m":"H","r":2,"x":8,"y":0.256},{"m":"H","r":2,"x":9,"y":0.252},{"m":"H","r":2,"x":10,"y":0.254},{"m":"H","r":2,"x":11,"y":0.253},{"m":"H","r":2,"x":12,"y":0.25},{"m":"H","r":2,"x":13,"y":0.252},{"m":"H","r":2,"x":14,"y":0.244},{"m":"H","r":2,"x":15,"y":0.248},
            {"m":"H","r":3,"x":0,"y":0.006},{"m":"H","r":3,"x":1,"y":0.19},{"m":"H","r":3,"x":2,"y":0.235},{"m":"H","r":3,"x":3,"y":0.245},{"m":"H","r":3,"x":4,"y":0.255},{"m":"H","r":3,"x":5,"y":0.256},{"m":"H","r":3,"x":6,"y":0.258},{"m":"H","r":3,"x":7,"y":0.254},{"m":"H","r":3,"x":8,"y":0.25},{"m":"H","r":3,"x":9,"y":0.256},{"m":"H","r":3,"x":10,"y":0.252},{"m":"H","r":3,"x":11,"y":0.255},{"m":"H","r":3,"x":12,"y":0.232},{"m":"H","r":3,"x":13,"y":0.248},{"m":"H","r":3,"x":14,"y":0.245},{"m":"H","r":3,"x":15,"y":0.244},
            {"m":"H","r":4,"x":0,"y":0.006},{"m":"H","r":4,"x":1,"y":0.185},{"m":"H","r":4,"x":2,"y":0.232},{"m":"H","r":4,"x":3,"y":0.245},{"m":"H","r":4,"x":4,"y":0.252},{"m":"H","r":4,"x":5,"y":0.258},{"m":"H","r":4,"x":6,"y":0.255},{"m":"H","r":4,"x":7,"y":0.252},{"m":"H","r":4,"x":8,"y":0.248},{"m":"H","r":4,"x":9,"y":0.252},{"m":"H","r":4,"x":10,"y":0.253},{"m":"H","r":4,"x":11,"y":0.25},{"m":"H","r":4,"x":12,"y":0.248},{"m":"H","r":4,"x":13,"y":0.245},{"m":"H","r":4,"x":14,"y":0.242},{"m":"H","r":4,"x":15,"y":0.24},
            {"m":"H","r":5,"x":0,"y":0.006},{"m":"H","r":5,"x":1,"y":0.18},{"m":"H","r":5,"x":2,"y":0.23},{"m":"H","r":5,"x":3,"y":0.242},{"m":"H","r":5,"x":4,"y":0.25},{"m":"H","r":5,"x":5,"y":0.255},{"m":"H","r":5,"x":6,"y":0.26},{"m":"H","r":5,"x":7,"y":0.256},{"m":"H","r":5,"x":8,"y":0.252},{"m":"H","r":5,"x":9,"y":0.254},{"m":"H","r":5,"x":10,"y":0.25},{"m":"H","r":5,"x":11,"y":0.254},{"m":"H","r":5,"x":12,"y":0.252},{"m":"H","r":5,"x":13,"y":0.25},{"m":"H","r":5,"x":14,"y":0.238},{"m":"H","r":5,"x":15,"y":0.239}
          ]},
          "mark": {"type": "line", "strokeWidth": 3, "opacity": 0.6},
          "encoding": {
            "x": {"field": "x", "type": "quantitative", "scale": {"domain": [-0.75, 15.75], "nice": false}, "axis": null},
            "y": {"field": "y", "type": "quantitative", "scale": {"domain": [-0.0146, 0.3805], "nice": false, "zero": false}, "axis": {"title": null, "labels": false, "values": [0, 0.1, 0.2, 0.3], "minExtent": 0}},
            "color": {"field": "m", "type": "nominal", "scale": {"domain": ["M", "H"], "range": ["#1b63b5", "#f01a50"]}, "legend": {"title": null, "labelExpr": "datum.value == 'M' ? 'Mouse-trained Models' : 'Human-trained Models'"}},
            "detail": {"field": "r"}
          }
        }
      ]
    },
    {
      "spacing": 12,
      "hconcat": [
        {
          "width": 277, "height": 270,
          "data": {"values": [
            {"m":"M","r":1,"x":0,"y":0.005},{"m":"M","r":1,"x":1,"y":0.19},{"m":"M","r":1,"x":2,"y":0.238},{"m":"M","r":1,"x":3,"y":0.255},{"m":"M","r":1,"x":4,"y":0.272},{"m":"M","r":1,"x":5,"y":0.265},{"m":"M","r":1,"x":6,"y":0.262},{"m":"M","r":1,"x":7,"y":0.275},{"m":"M","r":1,"x":8,"y":0.265},{"m":"M","r":1,"x":9,"y":0.262},{"m":"M","r":1,"x":10,"y":0.272},{"m":"M","r":1,"x":11,"y":0.27},{"m":"M","r":1,"x":12,"y":0.26},{"m":"M","r":1,"x":13,"y":0.272},{"m":"M","r":1,"x":14,"y":0.262},{"m":"M","r":1,"x":15,"y":0.272},
            {"m":"M","r":2,"x":0,"y":0.005},{"m":"M","r":2,"x":1,"y":0.185},{"m":"M","r":2,"x":2,"y":0.235},{"m":"M","r":2,"x":3,"y":0.252},{"m":"M","r":2,"x":4,"y":0.26},{"m":"M","r":2,"x":5,"y":0.262},{"m":"M","r":2,"x":6,"y":0.272},{"m":"M","r":2,"x":7,"y":0.262},{"m":"M","r":2,"x":8,"y":0.268},{"m":"M","r":2,"x":9,"y":0.265},{"m":"M","r":2,"x":10,"y":0.262},{"m":"M","r":2,"x":11,"y":0.265},{"m":"M","r":2,"x":12,"y":0.268},{"m":"M","r":2,"x":13,"y":0.265},{"m":"M","r":2,"x":14,"y":0.258},{"m":"M","r":2,"x":15,"y":0.262},
            {"m":"M","r":3,"x":0,"y":0.005},{"m":"M","r":3,"x":1,"y":0.18},{"m":"M","r":3,"x":2,"y":0.232},{"m":"M","r":3,"x":3,"y":0.25},{"m":"M","r":3,"x":4,"y":0.262},{"m":"M","r":3,"x":5,"y":0.26},{"m":"M","r":3,"x":6,"y":0.265},{"m":"M","r":3,"x":7,"y":0.265},{"m":"M","r":3,"x":8,"y":0.266},{"m":"M","r":3,"x":9,"y":0.268},{"m":"M","r":3,"x":10,"y":0.265},{"m":"M","r":3,"x":11,"y":0.26},{"m":"M","r":3,"x":12,"y":0.262},{"m":"M","r":3,"x":13,"y":0.258},{"m":"M","r":3,"x":14,"y":0.265},{"m":"M","r":3,"x":15,"y":0.258},
            {"m":"M","r":4,"x":0,"y":0.005},{"m":"M","r":4,"x":1,"y":0.178},{"m":"M","r":4,"x":2,"y":0.228},{"m":"M","r":4,"x":3,"y":0.248},{"m":"M","r":4,"x":4,"y":0.248},{"m":"M","r":4,"x":5,"y":0.262},{"m":"M","r":4,"x":6,"y":0.258},{"m":"M","r":4,"x":7,"y":0.268},{"m":"M","r":4,"x":8,"y":0.262},{"m":"M","r":4,"x":9,"y":0.26},{"m":"M","r":4,"x":10,"y":0.262},{"m":"M","r":4,"x":11,"y":0.262},{"m":"M","r":4,"x":12,"y":0.258},{"m":"M","r":4,"x":13,"y":0.262},{"m":"M","r":4,"x":14,"y":0.26},{"m":"M","r":4,"x":15,"y":0.255},
            {"m":"M","r":5,"x":0,"y":0.005},{"m":"M","r":5,"x":1,"y":0.176},{"m":"M","r":5,"x":2,"y":0.225},{"m":"M","r":5,"x":3,"y":0.25},{"m":"M","r":5,"x":4,"y":0.255},{"m":"M","r":5,"x":5,"y":0.248},{"m":"M","r":5,"x":6,"y":0.26},{"m":"M","r":5,"x":7,"y":0.255},{"m":"M","r":5,"x":8,"y":0.262},{"m":"M","r":5,"x":9,"y":0.262},{"m":"M","r":5,"x":10,"y":0.258},{"m":"M","r":5,"x":11,"y":0.262},{"m":"M","r":5,"x":12,"y":0.252},{"m":"M","r":5,"x":13,"y":0.262},{"m":"M","r":5,"x":14,"y":0.25},{"m":"M","r":5,"x":15,"y":0.252},
            {"m":"H","r":1,"x":0,"y":0.005},{"m":"H","r":1,"x":1,"y":0.157},{"m":"H","r":1,"x":2,"y":0.19},{"m":"H","r":1,"x":3,"y":0.205},{"m":"H","r":1,"x":4,"y":0.215},{"m":"H","r":1,"x":5,"y":0.218},{"m":"H","r":1,"x":6,"y":0.225},{"m":"H","r":1,"x":7,"y":0.238},{"m":"H","r":1,"x":8,"y":0.222},{"m":"H","r":1,"x":9,"y":0.22},{"m":"H","r":1,"x":10,"y":0.225},{"m":"H","r":1,"x":11,"y":0.222},{"m":"H","r":1,"x":12,"y":0.218},{"m":"H","r":1,"x":13,"y":0.225},{"m":"H","r":1,"x":14,"y":0.22},{"m":"H","r":1,"x":15,"y":0.214},
            {"m":"H","r":2,"x":0,"y":0.005},{"m":"H","r":2,"x":1,"y":0.152},{"m":"H","r":2,"x":2,"y":0.188},{"m":"H","r":2,"x":3,"y":0.205},{"m":"H","r":2,"x":4,"y":0.215},{"m":"H","r":2,"x":5,"y":0.22},{"m":"H","r":2,"x":6,"y":0.215},{"m":"H","r":2,"x":7,"y":0.228},{"m":"H","r":2,"x":8,"y":0.228},{"m":"H","r":2,"x":9,"y":0.222},{"m":"H","r":2,"x":10,"y":0.22},{"m":"H","r":2,"x":11,"y":0.225},{"m":"H","r":2,"x":12,"y":0.21},{"m":"H","r":2,"x":13,"y":0.22},{"m":"H","r":2,"x":14,"y":0.225},{"m":"H","r":2,"x":15,"y":0.21},
            {"m":"H","r":3,"x":0,"y":0.005},{"m":"H","r":3,"x":1,"y":0.148},{"m":"H","r":3,"x":2,"y":0.184},{"m":"H","r":3,"x":3,"y":0.2},{"m":"H","r":3,"x":4,"y":0.212},{"m":"H","r":3,"x":5,"y":0.215},{"m":"H","r":3,"x":6,"y":0.222},{"m":"H","r":3,"x":7,"y":0.218},{"m":"H","r":3,"x":8,"y":0.225},{"m":"H","r":3,"x":9,"y":0.205},{"m":"H","r":3,"x":10,"y":0.215},{"m":"H","r":3,"x":11,"y":0.22},{"m":"H","r":3,"x":12,"y":0.222},{"m":"H","r":3,"x":13,"y":0.195},{"m":"H","r":3,"x":14,"y":0.222},{"m":"H","r":3,"x":15,"y":0.205},
            {"m":"H","r":4,"x":0,"y":0.005},{"m":"H","r":4,"x":1,"y":0.145},{"m":"H","r":4,"x":2,"y":0.182},{"m":"H","r":4,"x":3,"y":0.198},{"m":"H","r":4,"x":4,"y":0.208},{"m":"H","r":4,"x":5,"y":0.21},{"m":"H","r":4,"x":6,"y":0.21},{"m":"H","r":4,"x":7,"y":0.215},{"m":"H","r":4,"x":8,"y":0.22},{"m":"H","r":4,"x":9,"y":0.215},{"m":"H","r":4,"x":10,"y":0.195},{"m":"H","r":4,"x":11,"y":0.21},{"m":"H","r":4,"x":12,"y":0.212},{"m":"H","r":4,"x":13,"y":0.218},{"m":"H","r":4,"x":14,"y":0.205},{"m":"H","r":4,"x":15,"y":0.198},
            {"m":"H","r":5,"x":0,"y":0.005},{"m":"H","r":5,"x":1,"y":0.142},{"m":"H","r":5,"x":2,"y":0.178},{"m":"H","r":5,"x":3,"y":0.195},{"m":"H","r":5,"x":4,"y":0.205},{"m":"H","r":5,"x":5,"y":0.206},{"m":"H","r":5,"x":6,"y":0.208},{"m":"H","r":5,"x":7,"y":0.212},{"m":"H","r":5,"x":8,"y":0.215},{"m":"H","r":5,"x":9,"y":0.2},{"m":"H","r":5,"x":10,"y":0.212},{"m":"H","r":5,"x":11,"y":0.215},{"m":"H","r":5,"x":12,"y":0.205},{"m":"H","r":5,"x":13,"y":0.222},{"m":"H","r":5,"x":14,"y":0.2},{"m":"H","r":5,"x":15,"y":0.191}
          ]},
          "layer": [
            {
              "mark": {"type": "line", "strokeWidth": 3, "opacity": 0.6},
              "encoding": {
                "x": {"field": "x", "type": "quantitative", "scale": {"domain": [-0.75, 15.75], "nice": false}, "axis": null},
                "y": {"field": "y", "type": "quantitative", "scale": {"domain": [-0.012, 0.293], "nice": false, "zero": false}, "axis": {"title": "auPRC", "values": [0, 0.1, 0.2], "format": ".1f", "titlePadding": 10}},
                "color": {"field": "m", "type": "nominal", "scale": {"domain": ["M", "H"], "range": ["#1b63b5", "#f01a50"]}, "legend": {"title": null, "labelExpr": "datum.value == 'M' ? 'Mouse-trained Models' : 'Human-trained Models'"}},
                "detail": {"field": "r"}
              }
            },
            {
              "mark": {"type": "point", "opacity": 0},
              "encoding": {
                "y": {"field": "y", "type": "quantitative", "scale": {"domain": [-0.012, 0.293], "nice": false, "zero": false}, "axis": {"orient": "left", "offset": 97, "ticks": false, "labels": false, "domain": true, "domainColor": "black", "domainWidth": 1.3, "title": "HNF4A", "titleFontSize": 25, "titlePadding": 7, "minExtent": 0}}
              }
            }
          ],
          "resolve": {"axis": {"y": "independent"}}
        },
        {
          "width": 277, "height": 270,
          "data": {"values": [
            {"m":"M","r":1,"x":0,"y":0.005},{"m":"M","r":1,"x":1,"y":0.133},{"m":"M","r":1,"x":2,"y":0.15},{"m":"M","r":1,"x":3,"y":0.165},{"m":"M","r":1,"x":4,"y":0.17},{"m":"M","r":1,"x":5,"y":0.182},{"m":"M","r":1,"x":6,"y":0.182},{"m":"M","r":1,"x":7,"y":0.178},{"m":"M","r":1,"x":8,"y":0.17},{"m":"M","r":1,"x":9,"y":0.193},{"m":"M","r":1,"x":10,"y":0.178},{"m":"M","r":1,"x":11,"y":0.174},{"m":"M","r":1,"x":12,"y":0.178},{"m":"M","r":1,"x":13,"y":0.172},{"m":"M","r":1,"x":14,"y":0.176},{"m":"M","r":1,"x":15,"y":0.174},
            {"m":"M","r":2,"x":0,"y":0.005},{"m":"M","r":2,"x":1,"y":0.128},{"m":"M","r":2,"x":2,"y":0.153},{"m":"M","r":2,"x":3,"y":0.16},{"m":"M","r":2,"x":4,"y":0.174},{"m":"M","r":2,"x":5,"y":0.18},{"m":"M","r":2,"x":6,"y":0.18},{"m":"M","r":2,"x":7,"y":0.175},{"m":"M","r":2,"x":8,"y":0.165},{"m":"M","r":2,"x":9,"y":0.178},{"m":"M","r":2,"x":10,"y":0.17},{"m":"M","r":2,"x":11,"y":0.165},{"m":"M","r":2,"x":12,"y":0.165},{"m":"M","r":2,"x":13,"y":0.168},{"m":"M","r":2,"x":14,"y":0.172},{"m":"M","r":2,"x":15,"y":0.17},
            {"m":"M","r":3,"x":0,"y":0.005},{"m":"M","r":3,"x":1,"y":0.125},{"m":"M","r":3,"x":2,"y":0.145},{"m":"M","r":3,"x":3,"y":0.155},{"m":"M","r":3,"x":4,"y":0.165},{"m":"M","r":3,"x":5,"y":0.155},{"m":"M","r":3,"x":6,"y":0.145},{"m":"M","r":3,"x":7,"y":0.16},{"m":"M","r":3,"x":8,"y":0.15},{"m":"M","r":3,"x":9,"y":0.155},{"m":"M","r":3,"x":10,"y":0.138},{"m":"M","r":3,"x":11,"y":0.15},{"m":"M","r":3,"x":12,"y":0.145},{"m":"M","r":3,"x":13,"y":0.15},{"m":"M","r":3,"x":14,"y":0.14},{"m":"M","r":3,"x":15,"y":0.155},
            {"m":"M","r":4,"x":0,"y":0.005},{"m":"M","r":4,"x":1,"y":0.12},{"m":"M","r":4,"x":2,"y":0.14},{"m":"M","r":4,"x":3,"y":0.15},{"m":"M","r":4,"x":4,"y":0.155},{"m":"M","r":4,"x":5,"y":0.152},{"m":"M","r":4,"x":6,"y":0.14},{"m":"M","r":4,"x":7,"y":0.148},{"m":"M","r":4,"x":8,"y":0.14},{"m":"M","r":4,"x":9,"y":0.138},{"m":"M","r":4,"x":10,"y":0.145},{"m":"M","r":4,"x":11,"y":0.11},{"m":"M","r":4,"x":12,"y":0.148},{"m":"M","r":4,"x":13,"y":0.15},{"m":"M","r":4,"x":14,"y":0.145},{"m":"M","r":4,"x":15,"y":0.15},
            {"m":"M","r":5,"x":0,"y":0.005},{"m":"M","r":5,"x":1,"y":0.116},{"m":"M","r":5,"x":2,"y":0.131},{"m":"M","r":5,"x":3,"y":0.145},{"m":"M","r":5,"x":4,"y":0.145},{"m":"M","r":5,"x":5,"y":0.127},{"m":"M","r":5,"x":6,"y":0.14},{"m":"M","r":5,"x":7,"y":0.135},{"m":"M","r":5,"x":8,"y":0.135},{"m":"M","r":5,"x":9,"y":0.125},{"m":"M","r":5,"x":10,"y":0.14},{"m":"M","r":5,"x":11,"y":0.15},{"m":"M","r":5,"x":12,"y":0.14},{"m":"M","r":5,"x":13,"y":0.125},{"m":"M","r":5,"x":14,"y":0.128},{"m":"M","r":5,"x":15,"y":0.12},
            {"m":"H","r":1,"x":0,"y":0.005},{"m":"H","r":1,"x":1,"y":0.18},{"m":"H","r":1,"x":2,"y":0.222},{"m":"H","r":1,"x":3,"y":0.244},{"m":"H","r":1,"x":4,"y":0.249},{"m":"H","r":1,"x":5,"y":0.25},{"m":"H","r":1,"x":6,"y":0.255},{"m":"H","r":1,"x":7,"y":0.252},{"m":"H","r":1,"x":8,"y":0.258},{"m":"H","r":1,"x":9,"y":0.256},{"m":"H","r":1,"x":10,"y":0.258},{"m":"H","r":1,"x":11,"y":0.263},{"m":"H","r":1,"x":12,"y":0.26},{"m":"H","r":1,"x":13,"y":0.255},{"m":"H","r":1,"x":14,"y":0.255},{"m":"H","r":1,"x":15,"y":0.255},
            {"m":"H","r":2,"x":0,"y":0.005},{"m":"H","r":2,"x":1,"y":0.175},{"m":"H","r":2,"x":2,"y":0.22},{"m":"H","r":2,"x":3,"y":0.24},{"m":"H","r":2,"x":4,"y":0.248},{"m":"H","r":2,"x":5,"y":0.252},{"m":"H","r":2,"x":6,"y":0.258},{"m":"H","r":2,"x":7,"y":0.25},{"m":"H","r":2,"x":8,"y":0.255},{"m":"H","r":2,"x":9,"y":0.258},{"m":"H","r":2,"x":10,"y":0.255},{"m":"H","r":2,"x":11,"y":0.26},{"m":"H","r":2,"x":12,"y":0.252},{"m":"H","r":2,"x":13,"y":0.25},{"m":"H","r":2,"x":14,"y":0.248},{"m":"H","r":2,"x":15,"y":0.247},
            {"m":"H","r":3,"x":0,"y":0.005},{"m":"H","r":3,"x":1,"y":0.17},{"m":"H","r":3,"x":2,"y":0.22},{"m":"H","r":3,"x":3,"y":0.238},{"m":"H","r":3,"x":4,"y":0.245},{"m":"H","r":3,"x":5,"y":0.248},{"m":"H","r":3,"x":6,"y":0.25},{"m":"H","r":3,"x":7,"y":0.252},{"m":"H","r":3,"x":8,"y":0.25},{"m":"H","r":3,"x":9,"y":0.252},{"m":"H","r":3,"x":10,"y":0.25},{"m":"H","r":3,"x":11,"y":0.252},{"m":"H","r":3,"x":12,"y":0.255},{"m":"H","r":3,"x":13,"y":0.25},{"m":"H","r":3,"x":14,"y":0.25},{"m":"H","r":3,"x":15,"y":0.243},
            {"m":"H","r":4,"x":0,"y":0.005},{"m":"H","r":4,"x":1,"y":0.165},{"m":"H","r":4,"x":2,"y":0.218},{"m":"H","r":4,"x":3,"y":0.235},{"m":"H","r":4,"x":4,"y":0.245},{"m":"H","r":4,"x":5,"y":0.25},{"m":"H","r":4,"x":6,"y":0.245},{"m":"H","r":4,"x":7,"y":0.25},{"m":"H","r":4,"x":8,"y":0.24},{"m":"H","r":4,"x":9,"y":0.248},{"m":"H","r":4,"x":10,"y":0.25},{"m":"H","r":4,"x":11,"y":0.255},{"m":"H","r":4,"x":12,"y":0.25},{"m":"H","r":4,"x":13,"y":0.252},{"m":"H","r":4,"x":14,"y":0.245},{"m":"H","r":4,"x":15,"y":0.243},
            {"m":"H","r":5,"x":0,"y":0.005},{"m":"H","r":5,"x":1,"y":0.161},{"m":"H","r":5,"x":2,"y":0.218},{"m":"H","r":5,"x":3,"y":0.232},{"m":"H","r":5,"x":4,"y":0.242},{"m":"H","r":5,"x":5,"y":0.246},{"m":"H","r":5,"x":6,"y":0.248},{"m":"H","r":5,"x":7,"y":0.246},{"m":"H","r":5,"x":8,"y":0.25},{"m":"H","r":5,"x":9,"y":0.245},{"m":"H","r":5,"x":10,"y":0.248},{"m":"H","r":5,"x":11,"y":0.25},{"m":"H","r":5,"x":12,"y":0.248},{"m":"H","r":5,"x":13,"y":0.245},{"m":"H","r":5,"x":14,"y":0.242},{"m":"H","r":5,"x":15,"y":0.236}
          ]},
          "mark": {"type": "line", "strokeWidth": 3, "opacity": 0.6},
          "encoding": {
            "x": {"field": "x", "type": "quantitative", "scale": {"domain": [-0.75, 15.75], "nice": false}, "axis": null},
            "y": {"field": "y", "type": "quantitative", "scale": {"domain": [-0.012, 0.293], "nice": false, "zero": false}, "axis": {"title": null, "labels": false, "values": [0, 0.1, 0.2], "minExtent": 0}},
            "color": {"field": "m", "type": "nominal", "scale": {"domain": ["M", "H"], "range": ["#1b63b5", "#f01a50"]}, "legend": {"title": null, "labelExpr": "datum.value == 'M' ? 'Mouse-trained Models' : 'Human-trained Models'"}},
            "detail": {"field": "r"}
          }
        }
      ]
    },
    {
      "spacing": 12,
      "hconcat": [
        {
          "width": 277, "height": 270,
          "data": {"values": [
            {"m":"M","r":1,"x":0,"y":0.005},{"m":"M","r":1,"x":1,"y":0.158},{"m":"M","r":1,"x":2,"y":0.2},{"m":"M","r":1,"x":3,"y":0.215},{"m":"M","r":1,"x":4,"y":0.218},{"m":"M","r":1,"x":5,"y":0.224},{"m":"M","r":1,"x":6,"y":0.218},{"m":"M","r":1,"x":7,"y":0.222},{"m":"M","r":1,"x":8,"y":0.22},{"m":"M","r":1,"x":9,"y":0.222},{"m":"M","r":1,"x":10,"y":0.224},{"m":"M","r":1,"x":11,"y":0.222},{"m":"M","r":1,"x":12,"y":0.222},{"m":"M","r":1,"x":13,"y":0.226},{"m":"M","r":1,"x":14,"y":0.22},{"m":"M","r":1,"x":15,"y":0.224},
            {"m":"M","r":2,"x":0,"y":0.005},{"m":"M","r":2,"x":1,"y":0.155},{"m":"M","r":2,"x":2,"y":0.195},{"m":"M","r":2,"x":3,"y":0.21},{"m":"M","r":2,"x":4,"y":0.215},{"m":"M","r":2,"x":5,"y":0.22},{"m":"M","r":2,"x":6,"y":0.215},{"m":"M","r":2,"x":7,"y":0.22},{"m":"M","r":2,"x":8,"y":0.218},{"m":"M","r":2,"x":9,"y":0.22},{"m":"M","r":2,"x":10,"y":0.22},{"m":"M","r":2,"x":11,"y":0.22},{"m":"M","r":2,"x":12,"y":0.218},{"m":"M","r":2,"x":13,"y":0.222},{"m":"M","r":2,"x":14,"y":0.215},{"m":"M","r":2,"x":15,"y":0.22},
            {"m":"M","r":3,"x":0,"y":0.005},{"m":"M","r":3,"x":1,"y":0.152},{"m":"M","r":3,"x":2,"y":0.192},{"m":"M","r":3,"x":3,"y":0.205},{"m":"M","r":3,"x":4,"y":0.215},{"m":"M","r":3,"x":5,"y":0.218},{"m":"M","r":3,"x":6,"y":0.198},{"m":"M","r":3,"x":7,"y":0.215},{"m":"M","r":3,"x":8,"y":0.215},{"m":"M","r":3,"x":9,"y":0.216},{"m":"M","r":3,"x":10,"y":0.218},{"m":"M","r":3,"x":11,"y":0.216},{"m":"M","r":3,"x":12,"y":0.192},{"m":"M","r":3,"x":13,"y":0.212},{"m":"M","r":3,"x":14,"y":0.218},{"m":"M","r":3,"x":15,"y":0.215},
            {"m":"M","r":4,"x":0,"y":0.005},{"m":"M","r":4,"x":1,"y":0.15},{"m":"M","r":4,"x":2,"y":0.19},{"m":"M","r":4,"x":3,"y":0.205},{"m":"M","r":4,"x":4,"y":0.212},{"m":"M","r":4,"x":5,"y":0.212},{"m":"M","r":4,"x":6,"y":0.212},{"m":"M","r":4,"x":7,"y":0.212},{"m":"M","r":4,"x":8,"y":0.21},{"m":"M","r":4,"x":9,"y":0.212},{"m":"M","r":4,"x":10,"y":0.214},{"m":"M","r":4,"x":11,"y":0.21},{"m":"M","r":4,"x":12,"y":0.212},{"m":"M","r":4,"x":13,"y":0.205},{"m":"M","r":4,"x":14,"y":0.21},{"m":"M","r":4,"x":15,"y":0.218},
            {"m":"M","r":5,"x":0,"y":0.005},{"m":"M","r":5,"x":1,"y":0.15},{"m":"M","r":5,"x":2,"y":0.188},{"m":"M","r":5,"x":3,"y":0.202},{"m":"M","r":5,"x":4,"y":0.21},{"m":"M","r":5,"x":5,"y":0.215},{"m":"M","r":5,"x":6,"y":0.21},{"m":"M","r":5,"x":7,"y":0.215},{"m":"M","r":5,"x":8,"y":0.212},{"m":"M","r":5,"x":9,"y":0.21},{"m":"M","r":5,"x":10,"y":0.21},{"m":"M","r":5,"x":11,"y":0.208},{"m":"M","r":5,"x":12,"y":0.205},{"m":"M","r":5,"x":13,"y":0.21},{"m":"M","r":5,"x":14,"y":0.212},{"m":"M","r":5,"x":15,"y":0.202},
            {"m":"H","r":1,"x":0,"y":0.005},{"m":"H","r":1,"x":1,"y":0.16},{"m":"H","r":1,"x":2,"y":0.18},{"m":"H","r":1,"x":3,"y":0.19},{"m":"H","r":1,"x":4,"y":0.192},{"m":"H","r":1,"x":5,"y":0.19},{"m":"H","r":1,"x":6,"y":0.204},{"m":"H","r":1,"x":7,"y":0.198},{"m":"H","r":1,"x":8,"y":0.195},{"m":"H","r":1,"x":9,"y":0.198},{"m":"H","r":1,"x":10,"y":0.2},{"m":"H","r":1,"x":11,"y":0.198},{"m":"H","r":1,"x":12,"y":0.195},{"m":"H","r":1,"x":13,"y":0.195},{"m":"H","r":1,"x":14,"y":0.192},{"m":"H","r":1,"x":15,"y":0.19},
            {"m":"H","r":2,"x":0,"y":0.005},{"m":"H","r":2,"x":1,"y":0.158},{"m":"H","r":2,"x":2,"y":0.182},{"m":"H","r":2,"x":3,"y":0.188},{"m":"H","r":2,"x":4,"y":0.19},{"m":"H","r":2,"x":5,"y":0.192},{"m":"H","r":2,"x":6,"y":0.19},{"m":"H","r":2,"x":7,"y":0.192},{"m":"H","r":2,"x":8,"y":0.195},{"m":"H","r":2,"x":9,"y":0.192},{"m":"H","r":2,"x":10,"y":0.196},{"m":"H","r":2,"x":11,"y":0.195},{"m":"H","r":2,"x":12,"y":0.198},{"m":"H","r":2,"x":13,"y":0.19},{"m":"H","r":2,"x":14,"y":0.188},{"m":"H","r":2,"x":15,"y":0.185},
            {"m":"H","r":3,"x":0,"y":0.005},{"m":"H","r":3,"x":1,"y":0.158},{"m":"H","r":3,"x":2,"y":0.178},{"m":"H","r":3,"x":3,"y":0.185},{"m":"H","r":3,"x":4,"y":0.192},{"m":"H","r":3,"x":5,"y":0.185},{"m":"H","r":3,"x":6,"y":0.188},{"m":"H","r":3,"x":7,"y":0.19},{"m":"H","r":3,"x":8,"y":0.188},{"m":"H","r":3,"x":9,"y":0.18},{"m":"H","r":3,"x":10,"y":0.19},{"m":"H","r":3,"x":11,"y":0.185},{"m":"H","r":3,"x":12,"y":0.192},{"m":"H","r":3,"x":13,"y":0.185},{"m":"H","r":3,"x":14,"y":0.182},{"m":"H","r":3,"x":15,"y":0.179},
            {"m":"H","r":4,"x":0,"y":0.005},{"m":"H","r":4,"x":1,"y":0.156},{"m":"H","r":4,"x":2,"y":0.178},{"m":"H","r":4,"x":3,"y":0.186},{"m":"H","r":4,"x":4,"y":0.188},{"m":"H","r":4,"x":5,"y":0.18},{"m":"H","r":4,"x":6,"y":0.186},{"m":"H","r":4,"x":7,"y":0.188},{"m":"H","r":4,"x":8,"y":0.182},{"m":"H","r":4,"x":9,"y":0.188},{"m":"H","r":4,"x":10,"y":0.186},{"m":"H","r":4,"x":11,"y":0.18},{"m":"H","r":4,"x":12,"y":0.182},{"m":"H","r":4,"x":13,"y":0.18},{"m":"H","r":4,"x":14,"y":0.178},{"m":"H","r":4,"x":15,"y":0.178},
            {"m":"H","r":5,"x":0,"y":0.005},{"m":"H","r":5,"x":1,"y":0.155},{"m":"H","r":5,"x":2,"y":0.176},{"m":"H","r":5,"x":3,"y":0.184},{"m":"H","r":5,"x":4,"y":0.186},{"m":"H","r":5,"x":5,"y":0.188},{"m":"H","r":5,"x":6,"y":0.185},{"m":"H","r":5,"x":7,"y":0.186},{"m":"H","r":5,"x":8,"y":0.185},{"m":"H","r":5,"x":9,"y":0.182},{"m":"H","r":5,"x":10,"y":0.182},{"m":"H","r":5,"x":11,"y":0.176},{"m":"H","r":5,"x":12,"y":0.175},{"m":"H","r":5,"x":13,"y":0.176},{"m":"H","r":5,"x":14,"y":0.172},{"m":"H","r":5,"x":15,"y":0.169}
          ]},
          "layer": [
            {
              "mark": {"type": "line", "strokeWidth": 3, "opacity": 0.6},
              "encoding": {
                "x": {"field": "x", "type": "quantitative", "scale": {"domain": [-0.75, 15.75], "nice": false}, "axis": {"title": "Epochs", "values": [0, 5, 10, 15], "labelPadding": 4, "titlePadding": 9}},
                "y": {"field": "y", "type": "quantitative", "scale": {"domain": [-0.012, 0.332], "nice": false, "zero": false}, "axis": {"title": "auPRC", "values": [0, 0.1, 0.2, 0.3], "format": ".1f", "titlePadding": 10}},
                "color": {"field": "m", "type": "nominal", "scale": {"domain": ["M", "H"], "range": ["#1b63b5", "#f01a50"]}, "legend": {"title": null, "labelExpr": "datum.value == 'M' ? 'Mouse-trained Models' : 'Human-trained Models'"}},
                "detail": {"field": "r"}
              }
            },
            {
              "mark": {"type": "point", "opacity": 0},
              "encoding": {
                "y": {"field": "y", "type": "quantitative", "scale": {"domain": [-0.012, 0.332], "nice": false, "zero": false}, "axis": {"orient": "left", "offset": 97, "ticks": false, "labels": false, "domain": true, "domainColor": "black", "domainWidth": 1.3, "title": "RXRA", "titleFontSize": 25, "titlePadding": 7, "minExtent": 0}}
              }
            }
          ],
          "resolve": {"axis": {"y": "independent"}}
        },
        {
          "width": 277, "height": 270,
          "data": {"values": [
            {"m":"M","r":1,"x":0,"y":0.016},{"m":"M","r":1,"x":1,"y":0.137},{"m":"M","r":1,"x":2,"y":0.15},{"m":"M","r":1,"x":3,"y":0.155},{"m":"M","r":1,"x":4,"y":0.16},{"m":"M","r":1,"x":5,"y":0.15},{"m":"M","r":1,"x":6,"y":0.14},{"m":"M","r":1,"x":7,"y":0.16},{"m":"M","r":1,"x":8,"y":0.172},{"m":"M","r":1,"x":9,"y":0.17},{"m":"M","r":1,"x":10,"y":0.155},{"m":"M","r":1,"x":11,"y":0.155},{"m":"M","r":1,"x":12,"y":0.168},{"m":"M","r":1,"x":13,"y":0.165},{"m":"M","r":1,"x":14,"y":0.155},{"m":"M","r":1,"x":15,"y":0.151},
            {"m":"M","r":2,"x":0,"y":0.016},{"m":"M","r":2,"x":1,"y":0.135},{"m":"M","r":2,"x":2,"y":0.148},{"m":"M","r":2,"x":3,"y":0.152},{"m":"M","r":2,"x":4,"y":0.162},{"m":"M","r":2,"x":5,"y":0.15},{"m":"M","r":2,"x":6,"y":0.158},{"m":"M","r":2,"x":7,"y":0.14},{"m":"M","r":2,"x":8,"y":0.14},{"m":"M","r":2,"x":9,"y":0.145},{"m":"M","r":2,"x":10,"y":0.135},{"m":"M","r":2,"x":11,"y":0.14},{"m":"M","r":2,"x":12,"y":0.13},{"m":"M","r":2,"x":13,"y":0.142},{"m":"M","r":2,"x":14,"y":0.142},{"m":"M","r":2,"x":15,"y":0.143},
            {"m":"M","r":3,"x":0,"y":0.016},{"m":"M","r":3,"x":1,"y":0.133},{"m":"M","r":3,"x":2,"y":0.145},{"m":"M","r":3,"x":3,"y":0.15},{"m":"M","r":3,"x":4,"y":0.155},{"m":"M","r":3,"x":5,"y":0.148},{"m":"M","r":3,"x":6,"y":0.14},{"m":"M","r":3,"x":7,"y":0.14},{"m":"M","r":3,"x":8,"y":0.14},{"m":"M","r":3,"x":9,"y":0.128},{"m":"M","r":3,"x":10,"y":0.135},{"m":"M","r":3,"x":11,"y":0.145},{"m":"M","r":3,"x":12,"y":0.135},{"m":"M","r":3,"x":13,"y":0.138},{"m":"M","r":3,"x":14,"y":0.118},{"m":"M","r":3,"x":15,"y":0.124},
            {"m":"M","r":4,"x":0,"y":0.016},{"m":"M","r":4,"x":1,"y":0.13},{"m":"M","r":4,"x":2,"y":0.14},{"m":"M","r":4,"x":3,"y":0.14},{"m":"M","r":4,"x":4,"y":0.145},{"m":"M","r":4,"x":5,"y":0.145},{"m":"M","r":4,"x":6,"y":0.125},{"m":"M","r":4,"x":7,"y":0.125},{"m":"M","r":4,"x":8,"y":0.135},{"m":"M","r":4,"x":9,"y":0.15},{"m":"M","r":4,"x":10,"y":0.14},{"m":"M","r":4,"x":11,"y":0.142},{"m":"M","r":4,"x":12,"y":0.138},{"m":"M","r":4,"x":13,"y":0.14},{"m":"M","r":4,"x":14,"y":0.12},{"m":"M","r":4,"x":15,"y":0.12},
            {"m":"M","r":5,"x":0,"y":0.016},{"m":"M","r":5,"x":1,"y":0.13},{"m":"M","r":5,"x":2,"y":0.138},{"m":"M","r":5,"x":3,"y":0.138},{"m":"M","r":5,"x":4,"y":0.135},{"m":"M","r":5,"x":5,"y":0.115},{"m":"M","r":5,"x":6,"y":0.124},{"m":"M","r":5,"x":7,"y":0.118},{"m":"M","r":5,"x":8,"y":0.113},{"m":"M","r":5,"x":9,"y":0.125},{"m":"M","r":5,"x":10,"y":0.115},{"m":"M","r":5,"x":11,"y":0.115},{"m":"M","r":5,"x":12,"y":0.108},{"m":"M","r":5,"x":13,"y":0.118},{"m":"M","r":5,"x":14,"y":0.11},{"m":"M","r":5,"x":15,"y":0.115},
            {"m":"H","r":1,"x":0,"y":0.018},{"m":"H","r":1,"x":1,"y":0.245},{"m":"H","r":1,"x":2,"y":0.275},{"m":"H","r":1,"x":3,"y":0.287},{"m":"H","r":1,"x":4,"y":0.294},{"m":"H","r":1,"x":5,"y":0.3},{"m":"H","r":1,"x":6,"y":0.302},{"m":"H","r":1,"x":7,"y":0.306},{"m":"H","r":1,"x":8,"y":0.302},{"m":"H","r":1,"x":9,"y":0.306},{"m":"H","r":1,"x":10,"y":0.305},{"m":"H","r":1,"x":11,"y":0.308},{"m":"H","r":1,"x":12,"y":0.305},{"m":"H","r":1,"x":13,"y":0.31},{"m":"H","r":1,"x":14,"y":0.306},{"m":"H","r":1,"x":15,"y":0.306},
            {"m":"H","r":2,"x":0,"y":0.018},{"m":"H","r":2,"x":1,"y":0.245},{"m":"H","r":2,"x":2,"y":0.272},{"m":"H","r":2,"x":3,"y":0.285},{"m":"H","r":2,"x":4,"y":0.29},{"m":"H","r":2,"x":5,"y":0.298},{"m":"H","r":2,"x":6,"y":0.3},{"m":"H","r":2,"x":7,"y":0.304},{"m":"H","r":2,"x":8,"y":0.302},{"m":"H","r":2,"x":9,"y":0.302},{"m":"H","r":2,"x":10,"y":0.306},{"m":"H","r":2,"x":11,"y":0.305},{"m":"H","r":2,"x":12,"y":0.308},{"m":"H","r":2,"x":13,"y":0.306},{"m":"H","r":2,"x":14,"y":0.302},{"m":"H","r":2,"x":15,"y":0.303},
            {"m":"H","r":3,"x":0,"y":0.018},{"m":"H","r":3,"x":1,"y":0.244},{"m":"H","r":3,"x":2,"y":0.27},{"m":"H","r":3,"x":3,"y":0.282},{"m":"H","r":3,"x":4,"y":0.288},{"m":"H","r":3,"x":5,"y":0.296},{"m":"H","r":3,"x":6,"y":0.298},{"m":"H","r":3,"x":7,"y":0.3},{"m":"H","r":3,"x":8,"y":0.3},{"m":"H","r":3,"x":9,"y":0.305},{"m":"H","r":3,"x":10,"y":0.304},{"m":"H","r":3,"x":11,"y":0.302},{"m":"H","r":3,"x":12,"y":0.302},{"m":"H","r":3,"x":13,"y":0.302},{"m":"H","r":3,"x":14,"y":0.3},{"m":"H","r":3,"x":15,"y":0.301},
            {"m":"H","r":4,"x":0,"y":0.018},{"m":"H","r":4,"x":1,"y":0.244},{"m":"H","r":4,"x":2,"y":0.269},{"m":"H","r":4,"x":3,"y":0.28},{"m":"H","r":4,"x":4,"y":0.282},{"m":"H","r":4,"x":5,"y":0.295},{"m":"H","r":4,"x":6,"y":0.298},{"m":"H","r":4,"x":7,"y":0.298},{"m":"H","r":4,"x":8,"y":0.298},{"m":"H","r":4,"x":9,"y":0.3},{"m":"H","r":4,"x":10,"y":0.305},{"m":"H","r":4,"x":11,"y":0.302},{"m":"H","r":4,"x":12,"y":0.304},{"m":"H","r":4,"x":13,"y":0.3},{"m":"H","r":4,"x":14,"y":0.298},{"m":"H","r":4,"x":15,"y":0.298},
            {"m":"H","r":5,"x":0,"y":0.018},{"m":"H","r":5,"x":1,"y":0.243},{"m":"H","r":5,"x":2,"y":0.268},{"m":"H","r":5,"x":3,"y":0.279},{"m":"H","r":5,"x":4,"y":0.277},{"m":"H","r":5,"x":5,"y":0.291},{"m":"H","r":5,"x":6,"y":0.295},{"m":"H","r":5,"x":7,"y":0.296},{"m":"H","r":5,"x":8,"y":0.3},{"m":"H","r":5,"x":9,"y":0.298},{"m":"H","r":5,"x":10,"y":0.302},{"m":"H","r":5,"x":11,"y":0.3},{"m":"H","r":5,"x":12,"y":0.3},{"m":"H","r":5,"x":13,"y":0.298},{"m":"H","r":5,"x":14,"y":0.295},{"m":"H","r":5,"x":15,"y":0.296}
          ]},
          "mark": {"type": "line", "strokeWidth": 3, "opacity": 0.6},
          "encoding": {
            "x": {"field": "x", "type": "quantitative", "scale": {"domain": [-0.75, 15.75], "nice": false}, "axis": {"title": "Epochs", "values": [0, 5, 10, 15], "labelPadding": 4, "titlePadding": 9}},
            "y": {"field": "y", "type": "quantitative", "scale": {"domain": [-0.012, 0.332], "nice": false, "zero": false}, "axis": {"title": null, "labels": false, "values": [0, 0.1, 0.2, 0.3], "minExtent": 0}},
            "color": {"field": "m", "type": "nominal", "scale": {"domain": ["M", "H"], "range": ["#1b63b5", "#f01a50"]}, "legend": {"title": null, "labelExpr": "datum.value == 'M' ? 'Mouse-trained Models' : 'Human-trained Models'"}},
            "detail": {"field": "r"}
          }
        }
      ]
    }
  ]
}
